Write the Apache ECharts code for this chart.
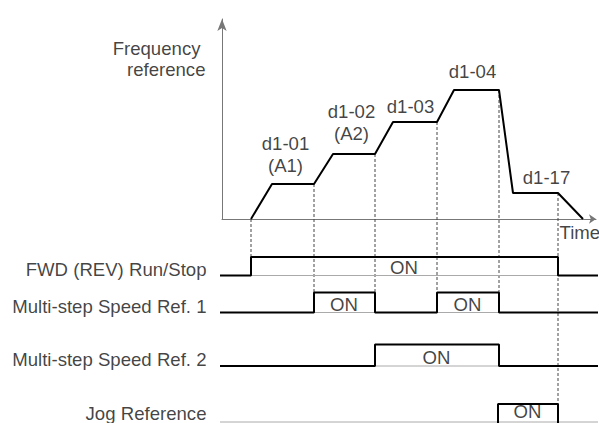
<!DOCTYPE html>
<html>
<head>
<meta charset="utf-8">
<script src="https://cdn.jsdelivr.net/npm/echarts@6/dist/echarts.min.js"></script>
<style>
html,body{margin:0;padding:0;background:#fff;}
#chart{width:599px;height:423px;}
</style>
</head>
<body>
<div id="chart"></div>
<script>
// ---- data ----
const profileTimes = [14.5, 25, 46, 55.5, 76.5, 85.5, 107.5, 116, 138.5, 145.5, 168, 180.5];
const profileFreq  = [0, 17.5, 17.5, 32.5, 32.5, 48.5, 48.5, 64.5, 64.5, 13, 13, 0];
const stepNames = ['d1-01\n(A1)', 'd1-02\n(A2)', 'd1-03', 'd1-04', 'd1-17'];
const signalNames = ['FWD (REV) Run/Stop', 'Multi-step Speed Ref. 1', 'Multi-step Speed Ref. 2', 'Jog Reference'];
const fwdOn  = [[14.5, 168]];
const ref1On = [[46, 76.5], [107.5, 138.5]];
const ref2On = [[76.5, 138.5]];
const jogOn  = [[138, 168]];
const syncTimes = [14.5, 46, 76.5, 107.5, 138.5, 168];
const syncFreq  = [0, 17.5, 32.5, 48.5, 64.5, 13];
const syncRow   = [0, 1, 1, 1, 1, 3];
const onText = 'ON';
const yTitle = ['Frequency', 'reference'];
const xTitle = 'Time';

// ---- layout (data units: 1 unit = 2 px) ----
const layout = {
  tStart: -1, tEnd: 188,
  rowLow:  [-28.25, -46.75, -73.5, -102.6],
  rowHigh: [-19, -36.75, -62.75, -92.5],
  rowBase: [-28.25, -46.75, -73.5, -101.5],
  rowLabelDy: [3, 3, 3, 4],
  onLabelDy: [4, 4, 4, 5.2],
  stepLabelPos: [[32, 32.25], [65, 48], [94.5, 56], [125.5, 73.5], [162.5, 20.5]],
  yTitlePos: [[-10.5, 85], [-8, 74.5]],
  xTitlePos: [169, -7],
  rowLabelT: -7.5
};
const signals = [fwdOn, ref1On, ref2On, jogOn];
const FONT = '"Liberation Sans", Arial, sans-serif';

function stepData(onList, lo, hi) {
  const d = [[layout.tStart, lo]];
  onList.forEach(([a, b]) => { d.push([a, lo], [a, hi], [b, hi], [b, lo]); });
  d.push([layout.tEnd, lo]);
  return d;
}

const series = [];
// frequency profile
series.push({
  type: 'line', xAxisIndex: 0, yAxisIndex: 0, symbol: 'none', silent: true,
  data: profileTimes.map((t, i) => [t, profileFreq[i]]),
  lineStyle: { color: '#000', width: 2 }
});
// dashed sync lines
syncTimes.forEach((t, i) => {
  series.push({
    type: 'line', xAxisIndex: 1, yAxisIndex: 1, symbol: 'none', silent: true, z: 1,
    data: [[t, syncFreq[i]], [t, layout.rowHigh[syncRow[i]]]],
    lineStyle: { color: '#444', width: 1, type: [3, 2] }
  });
});
// signal rows
signals.forEach((on, r) => {
  series.push({
    type: 'line', xAxisIndex: 1, yAxisIndex: 1, symbol: 'none', silent: true, z: 2,
    data: [[layout.tStart, layout.rowBase[r]], [layout.tEnd, layout.rowBase[r]]],
    lineStyle: { color: '#aaa', width: 1 }
  });
  series.push({
    type: 'line', xAxisIndex: 1, yAxisIndex: 1, symbol: 'none', silent: true, z: 3,
    data: stepData(on, layout.rowLow[r], layout.rowHigh[r]),
    lineStyle: { color: '#000', width: 2 }
  });
});

// text labels (scatter with invisible symbols)
function textSeries(data, align) {
  return {
    type: 'scatter', xAxisIndex: 1, yAxisIndex: 1, symbolSize: 1, silent: true, z: 5,
    itemStyle: { color: 'rgba(0,0,0,0)' },
    data: data,
    label: {
      show: true, position: [0, 0], align: align, verticalAlign: 'middle',
      formatter: p => p.data[2], color: '#111', fontSize: 18.6, fontFamily: FONT, lineHeight: 22
    }
  };
}
const textCenter = [];
stepNames.forEach((s, i) => textCenter.push([layout.stepLabelPos[i][0], layout.stepLabelPos[i][1], s]));
signals.forEach((on, r) => on.forEach(([a, b]) => textCenter.push([(a + b) / 2, layout.rowBase[r] + layout.onLabelDy[r], onText])));
series.push(textSeries(textCenter, 'center'));
const textRight = signalNames.map((s, r) => [layout.rowLabelT, layout.rowBase[r] + layout.rowLabelDy[r], s]);
yTitle.forEach((s, i) => textRight.push([layout.yTitlePos[i][0], layout.yTitlePos[i][1], s]));
series.push(textSeries(textRight, 'right'));
series.push(textSeries([[layout.xTitlePos[0], layout.xTitlePos[1], xTitle]], 'left'));

const chart = echarts.init(document.getElementById('chart'), null, { renderer: 'svg' });
chart.setOption({
  animation: false,
  backgroundColor: '#fff',
  grid: [
    { left: 222, right: 3, top: 19, bottom: 204 },
    { left: 0, right: 1, top: 19, bottom: 0 }
  ],
  xAxis: [
    { type: 'value', gridIndex: 0, min: 0, max: 187,
      axisLine: { show: true, lineStyle: { color: '#777', width: 1 }, symbol: ['none', 'arrow'], symbolSize: [7, 7] },
      axisTick: { show: false }, axisLabel: { show: false }, splitLine: { show: false } },
    { type: 'value', gridIndex: 1, min: -111, max: 188, show: false }
  ],
  yAxis: [
    { type: 'value', gridIndex: 0, min: 0, max: 100,
      axisLine: { show: true, lineStyle: { color: '#777', width: 1 }, symbol: ['none', 'arrow'], symbolSize: [7, 12] },
      axisTick: { show: false }, axisLabel: { show: false }, splitLine: { show: false } },
    { type: 'value', gridIndex: 1, min: -102, max: 100, show: false }
  ],
  series: series
});
</script>
</body>
</html>
